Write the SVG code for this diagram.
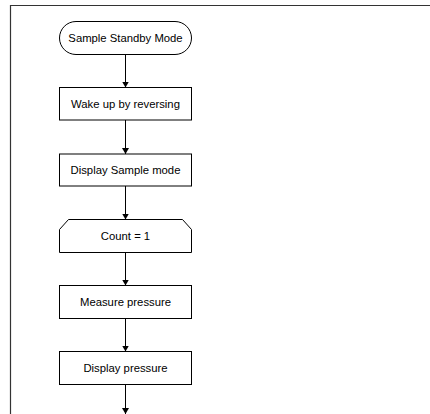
<svg xmlns="http://www.w3.org/2000/svg" width="430" height="414" viewBox="0 0 430 414">
  <style>
    .shape { fill: #ffffff; stroke: #000000; stroke-width: 1; }
    .label { font-family: "Liberation Sans", Arial, sans-serif; font-size: 11.3px; fill: #000000; text-anchor: middle; }
    .edge { fill: none; stroke: #000000; stroke-width: 1; marker-end: url(#arrow); }
    .frame { fill: none; stroke: #333333; stroke-width: 1.2; }
  </style>
  <defs>
    <marker id="arrow" viewBox="0 0 6 7" refX="6" refY="3.5" markerWidth="6" markerHeight="7" markerUnits="userSpaceOnUse" orient="auto">
      <path d="M0,0 L6,3.5 L0,7 Z" fill="#000000"/>
    </marker>
  </defs>

  <rect width="430" height="414" fill="#ffffff"/>

  <!-- page frame -->
  <path class="frame" d="M10.5,414 V5.5 H430"/>

  <!-- connectors -->
  <g id="connectors">
    <line class="edge" x1="125.5" y1="55" x2="125.5" y2="87.5"/>
    <line class="edge" x1="125.5" y1="120" x2="125.5" y2="154"/>
    <line class="edge" x1="125.5" y1="186" x2="125.5" y2="219.5"/>
    <line class="edge" x1="125.5" y1="252.5" x2="125.5" y2="285.5"/>
    <line class="edge" x1="125.5" y1="318.5" x2="125.5" y2="351.5"/>
    <line class="edge" x1="125.5" y1="384.5" x2="125.5" y2="414"/>
  </g>

  <g id="start">
    <rect class="shape" x="59.5" y="21.5" width="132" height="33" rx="16.5" ry="16.5"/>
    <text class="label" x="125.5" y="42">Sample Standby Mode</text>
  </g>

  <g id="wake">
    <rect class="shape" x="59.5" y="87.5" width="132" height="32.5"/>
    <text class="label" x="125.5" y="107.8">Wake up by reversing</text>
  </g>

  <g id="show-mode">
    <rect class="shape" x="59.5" y="154" width="132" height="32"/>
    <text class="label" x="125.5" y="174">Display Sample mode</text>
  </g>

  <g id="count">
    <path class="shape" d="M68.5,219.5 H182.5 L191.5,229.5 V252.5 H59.5 V229.5 Z"/>
    <text class="label" x="125.5" y="240">Count = 1</text>
  </g>

  <g id="measure">
    <rect class="shape" x="59.5" y="285.5" width="132" height="33"/>
    <text class="label" x="125.5" y="306">Measure pressure</text>
  </g>

  <g id="show-pressure">
    <rect class="shape" x="59.5" y="351.5" width="132" height="33"/>
    <text class="label" x="125.5" y="372">Display pressure</text>
  </g>
</svg>
